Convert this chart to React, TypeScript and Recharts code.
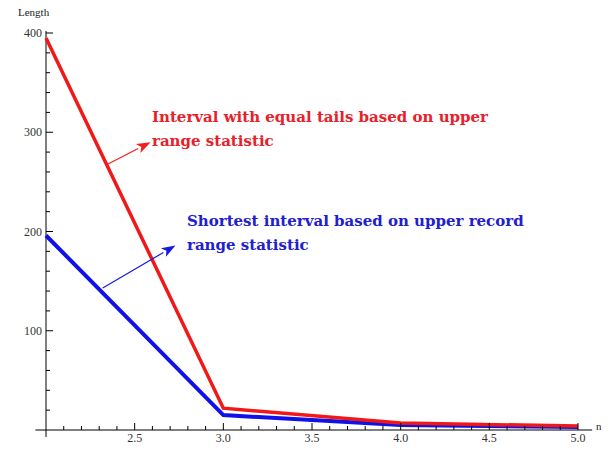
import { LineChart, Line, XAxis, YAxis, ReferenceLine } from 'recharts'

const nValues = [2, 3, 4, 5]
const equalTails = [395, 22, 7, 4]
const shortest = [196, 15, 5, 3]

const xTicks = [2.1, 2.2, 2.3, 2.4, 2.5, 2.6, 2.7, 2.8, 2.9, 3.0, 3.1, 3.2, 3.3, 3.4, 3.5, 3.6, 3.7, 3.8, 3.9, 4.0, 4.1, 4.2, 4.3, 4.4, 4.5, 4.6, 4.7, 4.8, 4.9, 5.0]
const yTicks = [20, 40, 60, 80, 100, 120, 140, 160, 180, 200, 220, 240, 260, 280, 300, 320, 340, 360, 380, 400]

const data = nValues.map((n, i) => ({ n, equal: equalTails[i], shortest: shortest[i] }))

const serif = '"Liberation Serif", "DejaVu Serif", serif'

function XTick(props: any) {
    const { x, y, payload } = props
    const v = Math.round(payload.value * 10)
    const major = v % 5 === 0
    return (
        <g>
            <line x1={x} x2={x} y1={y} y2={y - (major ? 7 : 4)} stroke="#000" strokeWidth={1} />
            {major && (
                <text x={x} y={y + 12} textAnchor="middle" fontSize={12} fontFamily={serif} fill="#333">
                    {payload.value.toFixed(1)}
                </text>
            )}
        </g>
    )
}

function YTick(props: any) {
    const { x, y, payload } = props
    const major = payload.value % 100 === 0
    return (
        <g>
            <line x1={x} x2={x + (major ? 7 : 4)} y1={y} y2={y} stroke="#000" strokeWidth={1} />
            {major && (
                <text x={x - 4} y={y + 4} textAnchor="end" fontSize={12} fontFamily={serif} fill="#333">
                    {payload.value}
                </text>
            )}
        </g>
    )
}

function Arrow(color: string) {
    return (props: any) => {
        const { x1, y1, x2, y2 } = props
        const ang = Math.atan2(y2 - y1, x2 - x1)
        const len = 14
        const w = 5
        const bx = x2 - len * Math.cos(ang)
        const by = y2 - len * Math.sin(ang)
        const px = -Math.sin(ang) * w
        const py = Math.cos(ang) * w
        return (
            <g>
                <line x1={x1} y1={y1} x2={bx} y2={by} stroke={color} strokeWidth={1.2} />
                <polygon points={`${x2},${y2} ${bx + px},${by + py} ${bx + len * 0.25 * Math.cos(ang)},${by + len * 0.25 * Math.sin(ang)} ${bx - px},${by - py}`} fill={color} />
            </g>
        )
    }
}

const textStyle = (color: string, left: number, top: number): React.CSSProperties => ({
    position: 'absolute',
    left,
    top,
    color,
    fontFamily: '"DejaVu Serif", serif',
    fontWeight: 'bold',
    fontSize: 15,
    lineHeight: '24px',
    whiteSpace: 'pre',
})

export default function App() {
    return (
        <div style={{ position: 'absolute', left: 0, top: 0, width: 613, height: 449, background: '#fff' }}>
            <LineChart width={613} height={449} data={data} margin={{ top: 33, right: 35, bottom: 0, left: 6 }}>
                <XAxis
                    dataKey="n"
                    type="number"
                    domain={[2, 5]}
                    ticks={xTicks}
                    interval={0}
                    axisLine={false}
                    tickLine={false}
                    tickSize={0}
                    tickMargin={0}
                    tick={<XTick />}
                    height={19}
                />
                <YAxis
                    type="number"
                    domain={[0, 400]}
                    ticks={yTicks}
                    interval={0}
                    axisLine={false}
                    tickLine={false}
                    tickSize={0}
                    tickMargin={0}
                    tick={<YTick />}
                    width={40}
                />
                <ReferenceLine segment={[{ x: 1.94, y: 0 }, { x: 5.08, y: 0 }]} stroke="#000" strokeWidth={1} ifOverflow="visible" />
                <ReferenceLine segment={[{ x: 2, y: -7 }, { x: 2, y: 402 }]} stroke="#000" strokeWidth={1} ifOverflow="visible" />
                <Line dataKey="shortest" stroke="#1010e8" strokeWidth={4} dot={false} isAnimationActive={false} type="linear" />
                <Line dataKey="equal" stroke="#f01818" strokeWidth={3.5} dot={false} isAnimationActive={false} type="linear" />
                <ReferenceLine segment={[{ x: 2.35, y: 268 }, { x: 2.59, y: 290 }]} shape={Arrow('#f02020')} ifOverflow="visible" />
                <ReferenceLine segment={[{ x: 2.32, y: 143 }, { x: 2.73, y: 186 }]} shape={Arrow('#1818e0')} ifOverflow="visible" />
            </LineChart>
            <div style={{ position: 'absolute', left: 18, top: 6, fontFamily: serif, fontSize: 11, color: '#222' }}>Length</div>
            <div style={{ position: 'absolute', left: 596, top: 420, fontFamily: serif, fontSize: 11, color: '#222' }}>n</div>
            <div style={textStyle('#e8202a', 152, 105)}>{'Interval with equal tails based on upper\nrange statistic'}</div>
            <div style={textStyle('#2020d0', 187, 209)}>{'Shortest interval based on upper record\nrange statistic'}</div>
        </div>
    )
}
